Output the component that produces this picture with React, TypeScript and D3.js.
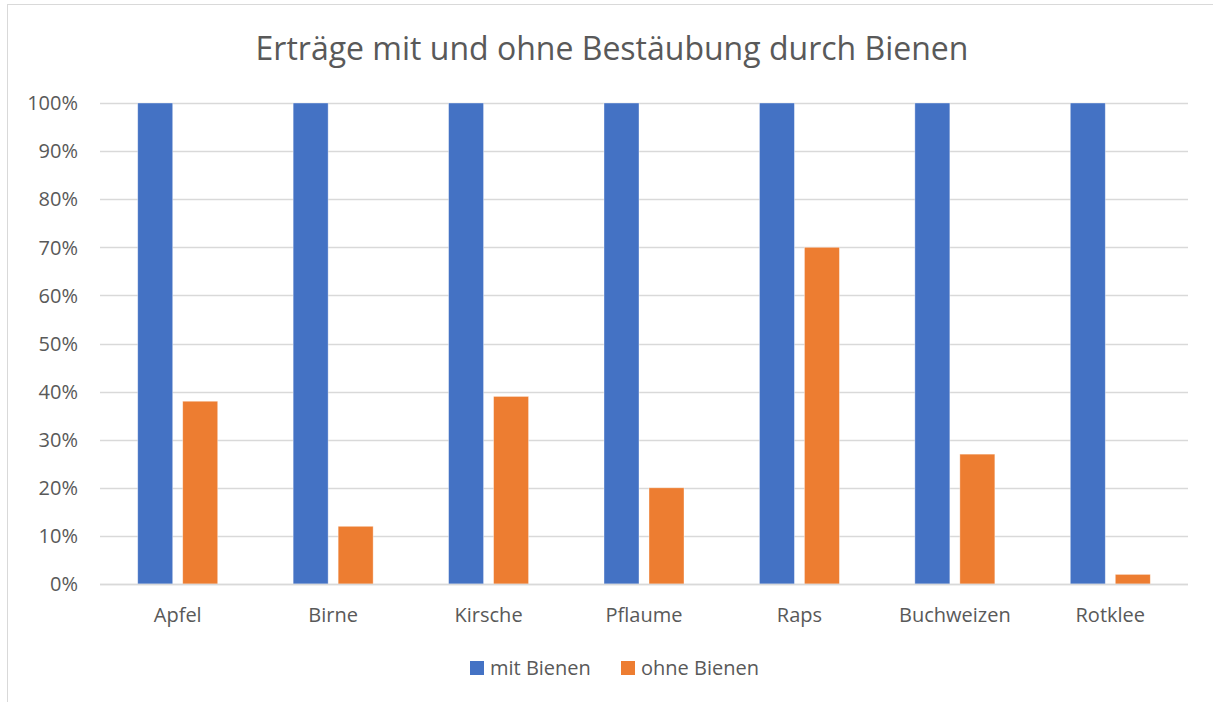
import React, { useEffect, useRef } from 'react';
import * as d3 from 'd3';

// Daten aus dem Diagramm
const categories = ['Apfel', 'Birne', 'Kirsche', 'Pflaume', 'Raps', 'Buchweizen', 'Rotklee'];
const mitBienen = [100, 100, 100, 100, 100, 100, 100];
const ohneBienen = [38, 12, 39, 20, 70, 27, 2];
const seriesNames = ['mit Bienen', 'ohne Bienen'];
const seriesColors = ['#4472C4', '#ED7D31'];
const yTicks = [0, 10, 20, 30, 40, 50, 60, 70, 80, 90, 100];
const title = 'Erträge mit und ohne Bestäubung durch Bienen';

const W = 1213;
const H = 702;
const FONT = '"Open Sans", "Liberation Sans", sans-serif';
const LABEL_SIZE = 20;

const App = () => {
  const svgRef = useRef<SVGSVGElement | null>(null);

  useEffect(() => {
    const svg = d3.select(svgRef.current);
    svg.selectAll('*').remove();

    // äußerer Rahmen
    svg.append('rect')
      .attr('x', 7.5).attr('y', 4.5)
      .attr('width', W + 10).attr('height', H + 10)
      .attr('fill', '#fff')
      .attr('stroke', '#D9D9D9')
      .attr('stroke-width', 1);

    const plot = { left: 100, right: 1188, top: 103, bottom: 584 };

    const x = d3.scaleBand<string>()
      .domain(categories)
      .range([plot.left, plot.right])
      .paddingInner(0)
      .paddingOuter(0);

    const y = d3.scaleLinear().domain([0, 100]).range([plot.bottom, plot.top]);

    const barW = 35;
    const gap = 10;

    // Gitterlinien
    svg.append('g')
      .selectAll('line')
      .data(yTicks)
      .join('line')
      .attr('x1', plot.left).attr('x2', plot.right)
      .attr('y1', d => Math.round(y(d)) + 0.5)
      .attr('y2', d => Math.round(y(d)) + 0.5)
      .attr('stroke', '#D9D9D9')
      .attr('stroke-width', 1.3);

    // y-Achsenbeschriftung
    svg.append('g')
      .selectAll('text')
      .data(yTicks)
      .join('text')
      .attr('x', 78)
      .attr('y', d => y(d))
      .attr('dy', '0.36em')
      .attr('text-anchor', 'end')
      .attr('font-family', FONT)
      .attr('font-size', LABEL_SIZE)
      .attr('fill', '#595959')
      .text(d => `${d}%`);

    // Balken
    const series = [mitBienen, ohneBienen];
    series.forEach((vals, si) => {
      svg.append('g')
        .selectAll('rect')
        .data(vals)
        .join('rect')
        .attr('x', (d, i) => {
          const c = x(categories[i])! + x.bandwidth() / 2;
          return si === 0 ? c - gap / 2 - barW : c + gap / 2;
        })
        .attr('y', d => y(d))
        .attr('width', barW)
        .attr('height', d => y(0) - y(d))
        .attr('fill', seriesColors[si])
        .attr('stroke', '#fff')
        .attr('stroke-opacity', 0.5)
        .attr('stroke-width', 0.75);
    });

    // Nulllinie über den Balken
    svg.append('line')
      .attr('x1', plot.left).attr('x2', plot.right)
      .attr('y1', Math.round(y(0)) + 0.5).attr('y2', Math.round(y(0)) + 0.5)
      .attr('stroke', '#D9D9D9')
      .attr('stroke-width', 1.3);

    // Kategorien
    svg.append('g')
      .selectAll('text')
      .data(categories)
      .join('text')
      .attr('x', d => x(d)! + x.bandwidth() / 2)
      .attr('y', 622)
      .attr('text-anchor', 'middle')
      .attr('font-family', FONT)
      .attr('font-size', LABEL_SIZE)
      .attr('fill', '#595959')
      .text(d => d);

    // Titel
    svg.append('text')
      .attr('x', 612)
      .attr('y', 60)
      .attr('text-anchor', 'middle')
      .attr('font-family', FONT)
      .attr('font-size', 32)
      .attr('fill', '#595959')
      .text(title);

    // Legende
    const legendX = [470, 621];
    seriesNames.forEach((name, i) => {
      svg.append('rect')
        .attr('x', legendX[i]).attr('y', 661)
        .attr('width', 14).attr('height', 14)
        .attr('fill', seriesColors[i]);
      svg.append('text')
        .attr('x', legendX[i] + 20)
        .attr('y', 675)
        .attr('font-family', FONT)
        .attr('font-size', LABEL_SIZE)
        .attr('fill', '#595959')
        .text(name);
    });
  }, []);

  return (
    <svg
      ref={svgRef}
      width={W}
      height={H}
      style={{ position: 'absolute', left: 0, top: 0, background: '#fff' }}
    />
  );
};

export default App;
